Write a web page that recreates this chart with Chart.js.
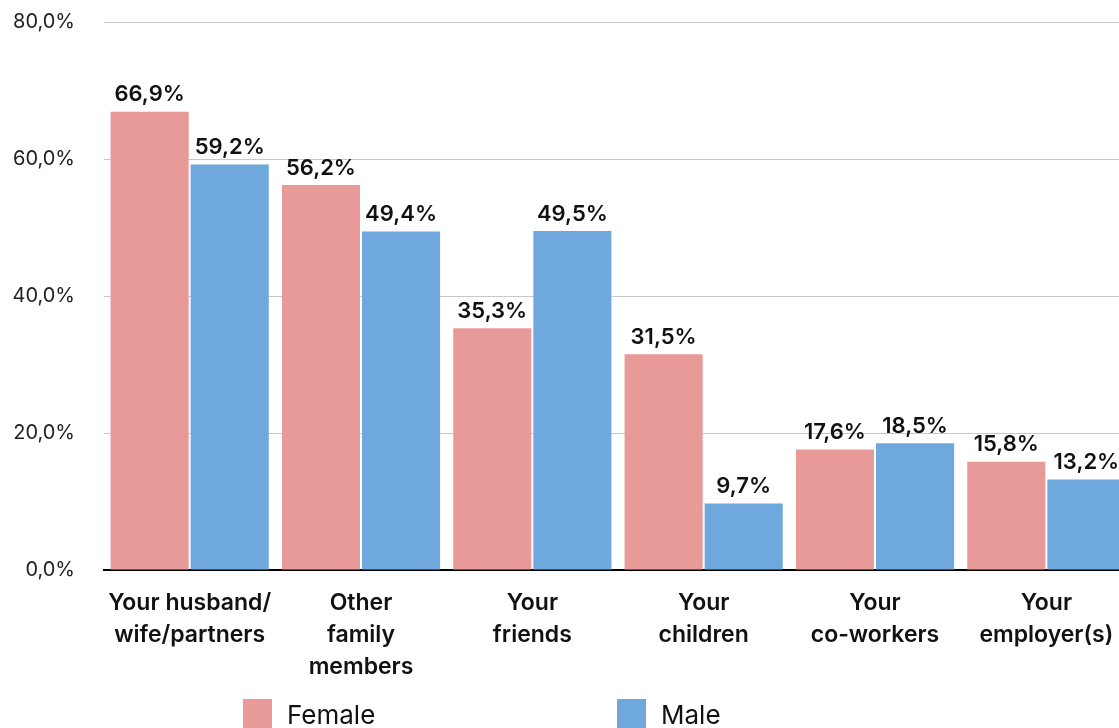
<!DOCTYPE html>
<html>
<head>
<meta charset="utf-8">
<title>Who do you talk to</title>
<script src="https://cdn.jsdelivr.net/npm/chart.js@4.4.1/dist/chart.umd.min.js"></script>
<style>
  html, body { margin: 0; padding: 0; background: #fff; overflow: hidden; }
  #wrap { position: relative; width: 1132px; height: 728px; }
  .legend-item { position: absolute; top: 699px; display: flex; align-items: flex-start;
    font: 400 26px Inter, sans-serif; color: #111; }
  .legend-item span.box { width: 29px; height: 29px; margin-right: 15px; display: inline-block; }
  .legend-item span.txt { line-height: 31px; }
</style>
</head>
<body>
<div id="wrap">
  <canvas id="chart"></canvas>
</div>
<script>
const categories = [
  ['Your husband/', 'wife/partners'],
  ['Other', 'family', 'members'],
  ['Your', 'friends'],
  ['Your', 'children'],
  ['Your', 'co-workers'],
  ['Your', 'employer(s)']
];
const female = [66.9, 56.2, 35.3, 31.5, 17.6, 15.8];
const male = [59.2, 49.4, 49.5, 9.7, 18.5, 13.2];
const seriesNames = ['Female', 'Male'];
const seriesColors = ['#e89a98', '#6fa8dc'];

const fmt = v => v.toFixed(1).replace('.', ',') + '%';

// value labels above each bar
const barLabels = {
  id: 'barLabels',
  afterDatasetsDraw(chart) {
    const ctx = chart.ctx;
    ctx.save();
    ctx.font = '600 22px Inter, sans-serif';
    ctx.fillStyle = '#111';
    ctx.textAlign = 'center';
    ctx.textBaseline = 'bottom';
    chart.data.datasets.forEach((ds, i) => {
      chart.getDatasetMeta(i).data.forEach((bar, j) => {
        ctx.fillText(fmt(ds.data[j]), bar.x, bar.y - 6);
      });
    });
    ctx.restore();
  }
};

const ctx = document.getElementById('chart').getContext('2d');
const myChart = new Chart(ctx, {
  type: 'bar',
  data: {
    labels: categories,
    datasets: [
      { label: seriesNames[0], data: female, backgroundColor: seriesColors[0] },
      { label: seriesNames[1], data: male, backgroundColor: seriesColors[1] }
    ]
  },
  options: {
    responsive: true,
    maintainAspectRatio: false,
    animation: false,
    categoryPercentage: 0.935,
    barPercentage: 0.975,
    layout: { padding: { top: 22, right: 0, left: 0, bottom: 0 } },
    plugins: {
      legend: { display: false },
      tooltip: { enabled: false }
    },
    scales: {
      x: {
        grid: { display: false },
        border: { display: true, color: '#000', width: 2 },
        ticks: {
          color: '#111',
          font: { family: 'Inter, sans-serif', size: 23, weight: '600', lineHeight: 1.39 },
          padding: 9,
          maxRotation: 0,
          autoSkip: false
        },
        afterFit(scale) { scale.height = 158; }
      },
      y: {
        min: 0,
        max: 80,
        grid: { color: '#c8c8c8', lineWidth: 1, drawTicks: false },
        border: { display: false },
        ticks: {
          stepSize: 20,
          color: '#222',
          padding: 29,
          font: { family: 'Inter, sans-serif', size: 20, weight: '400' },
          callback: v => fmt(v)
        },
        afterFit(scale) {
          // tick padding is only meant to push labels sideways
          scale.width = 104;
          scale.paddingTop = 0;
          scale.paddingBottom = 0;
        }
      }
    }
  },
  plugins: [barLabels]
});

// legend
const wrap = document.getElementById('wrap');
const legendLeft = [243, 617];
seriesNames.forEach((name, i) => {
  const item = document.createElement('div');
  item.className = 'legend-item';
  item.style.left = legendLeft[i] + 'px';
  item.innerHTML = '<span class="box" style="background:' + seriesColors[i] + '"></span><span class="txt">' + name + '</span>';
  wrap.appendChild(item);
});
</script>
</body>
</html>
